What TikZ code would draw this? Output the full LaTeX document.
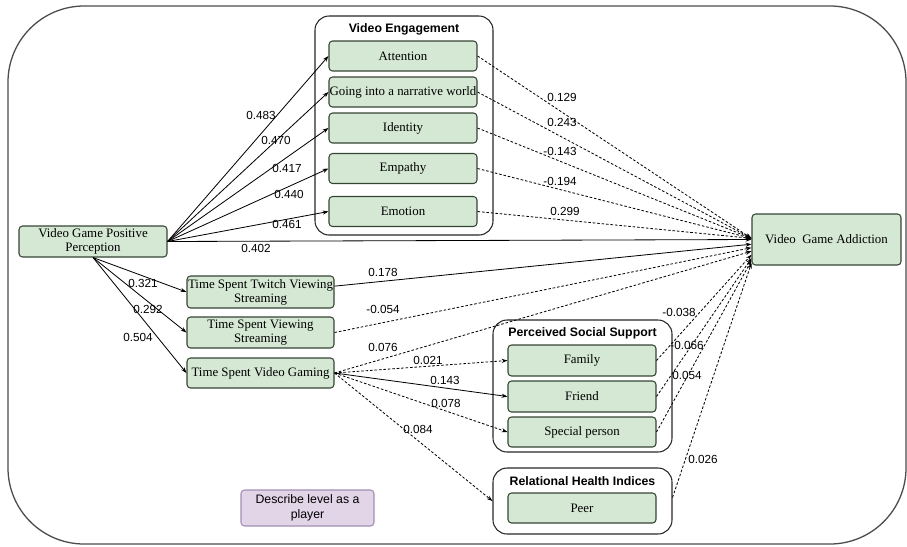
\documentclass[tikz,border=0pt]{standalone}
\usepackage{fontspec}
\setmainfont{Liberation Serif}
\setsansfont{Liberation Sans}
\usetikzlibrary{arrows.meta,calc}
\definecolor{boxgreen}{HTML}{D5E8D4}
\definecolor{boxline}{HTML}{354533}
\definecolor{lilac}{HTML}{E1D5E7}
\definecolor{lilacline}{HTML}{A58DB5}
\begin{document}
\begin{tikzpicture}[x=0.03cm,y=-0.03cm,
 sz/.style 2 args={minimum width=#1*0.03cm, minimum height=#2*0.03cm},
 item/.style={draw=boxline, fill=boxgreen, rounded corners=3pt, inner sep=0pt, align=center, font=\fontsize{11}{12}\selectfont, line width=0.9pt},
 group/.style={draw=black!85, rounded corners=12pt, inner sep=0pt, line width=0.9pt},
 gtitle/.style={font=\sffamily\bfseries\fontsize{10.5}{12}\selectfont, inner sep=0pt},
 lab/.style={font=\sffamily\fontsize{10}{12}\selectfont, inner sep=0pt},
 arr/.style={-{Stealth[length=5pt,width=3.5pt]}, line width=0.7pt},
 dsh/.style={arr, dash pattern=on 2.2pt off 1.6pt}
]
\useasboundingbox (0,0) rectangle (907,546);
\node[draw=black!70, line width=1.1pt, rounded corners=65pt, sz={898}{538}, inner sep=0pt] (frame) at (457,275) {};

% groups
\node[group, sz={178}{219}] (VE) at (404,125.5) {};
\node[gtitle] (VEt) at (404,29) {Video Engagement};
\node[group, sz={179}{132}] (PSS) at (582.5,386) {};
\node[gtitle] (PSSt) at (582.5,333) {Perceived Social Support};
\node[group, sz={179}{66}] (RHI) at (582.5,501) {};
\node[gtitle] (RHIt) at (582.5,481) {Relational Health Indices};

% items
\node[item, sz={148}{31}] (VGPP) at (93,241.5) {Video Game Positive\\Perception};
\node[item, sz={148}{30}] (att) at (403,56) {Attention};
\node[item, sz={148}{30}] (nar) at (403,92) {Going into a narrative world};
\node[item, sz={148}{30}] (ide) at (403,128) {Identity};
\node[item, sz={148}{30}] (emp) at (403,168.5) {Empathy};
\node[item, sz={148}{30}] (emo) at (403,211.5) {Emotion};
\node[item, sz={149}{51}] (VGA) at (826.5,239.5) {Video\ \ Game Addiction};
\node[item, sz={147}{32}] (tw) at (260.5,292) {Time Spent Twitch Viewing\\Streaming};
\node[item, sz={147}{31}] (vs) at (260.5,332.5) {Time Spent Viewing\\Streaming};
\node[item, sz={147}{30}] (vg) at (260.5,373) {Time Spent Video Gaming};
\node[item, sz={148}{31}] (fam) at (582,360.5) {Family};
\node[item, sz={148}{31}] (fri) at (582,396.5) {Friend};
\node[item, sz={148}{30}] (spe) at (582,432) {Special person};
\node[item, sz={148}{30}] (peer) at (582,508) {Peer};
\node[draw=lilacline, fill=lilac, rounded corners=3pt, line width=0.9pt, sz={133}{36}, inner sep=0pt, align=center, font=\sffamily\fontsize{10.5}{13}\selectfont] (desc) at (307.5,508) {Describe level as a\\player};

% VGPP -> video engagement
\draw[arr] (VGPP.east) -- (att.west);
\draw[arr] (VGPP.east) -- (nar.west);
\draw[arr] (VGPP.east) -- (ide.west);
\draw[arr] (VGPP.east) -- (emp.west);
\draw[arr] (VGPP.east) -- (emo.west);
\draw[arr] (VGPP.east) -- (VGA.west);

% video engagement -> VGA
\draw[dsh] (att.east) -- ([yshift=1pt]VGA.west);
\draw[dsh] (nar.east) -- ([yshift=1pt]VGA.west);
\draw[dsh] (ide.east) -- ([yshift=1pt]VGA.west);
\draw[dsh] (emp.east) -- ([yshift=1pt]VGA.west);
\draw[dsh] (emo.east) -- ([yshift=1pt]VGA.west);

% VGPP -> time
\draw[arr] (VGPP.south) -- (tw.west);
\draw[arr] (VGPP.south) -- (vs.west);
\draw[arr] (VGPP.south) -- (vg.west);

% time -> VGA
\draw[arr] ([yshift=5pt]tw.east) -- ([yshift=-4pt]VGA.west);
\draw[dsh] (vs.east) -- ([yshift=-7pt]VGA.west);
\draw[dsh] (vg.east) -- ([yshift=-10pt]VGA.west);

% gaming -> support
\draw[dsh] (vg.east) -- (fam.west);
\draw[arr] (vg.east) -- (fri.west);
\draw[dsh] (vg.east) -- (spe.west);
\draw[dsh] (vg.east) -- (RHI.west);

% support -> VGA
\draw[dsh] (fam.east) -- ([yshift=-13pt]VGA.west);
\draw[dsh] (fri.east) -- ([yshift=-16pt]VGA.west);
\draw[dsh] (spe.east) -- ([yshift=-18pt]VGA.west);
\draw[dsh] ([yshift=3pt]RHI.east) -- ([yshift=-20pt]VGA.west);

% labels
\node[lab] (l1) at (261,115) {0.483};
\node[lab] (l2) at (276,140) {0.470};
\node[lab] (l3) at (287,168) {0.417};
\node[lab] (l4) at (289,194) {0.440};
\node[lab] (l5) at (287,224) {0.461};
\node[lab] (l6) at (256,248) {0.402};
\node[lab] (l7) at (562,97) {0.129};
\node[lab] (l8) at (562,122) {0.243};
\node[lab] (l9) at (560,151) {-0.143};
\node[lab] (l10) at (560,181) {-0.194};
\node[lab] (l11) at (565,211) {0.299};
\node[lab] (l12) at (143,283) {0.321};
\node[lab] (l13) at (148,309) {0.292};
\node[lab] (l14) at (138,337) {0.504};
\node[lab] (l15) at (383,272) {0.178};
\node[lab] (l16) at (383,309) {-0.054};
\node[lab] (l17) at (383,347) {0.076};
\node[lab] (l18) at (428,360) {0.021};
\node[lab] (l19) at (445,380) {0.143};
\node[lab] (l20) at (446,403) {0.078};
\node[lab] (l21) at (418,429) {0.084};
\node[lab] (l22) at (679,312) {-0.038};
\node[lab] (l23) at (687,345) {-0.066};
\node[lab] (l24) at (687,375) {0.054};
\node[lab] (l25) at (703,459) {0.026};
\end{tikzpicture}
\end{document}
